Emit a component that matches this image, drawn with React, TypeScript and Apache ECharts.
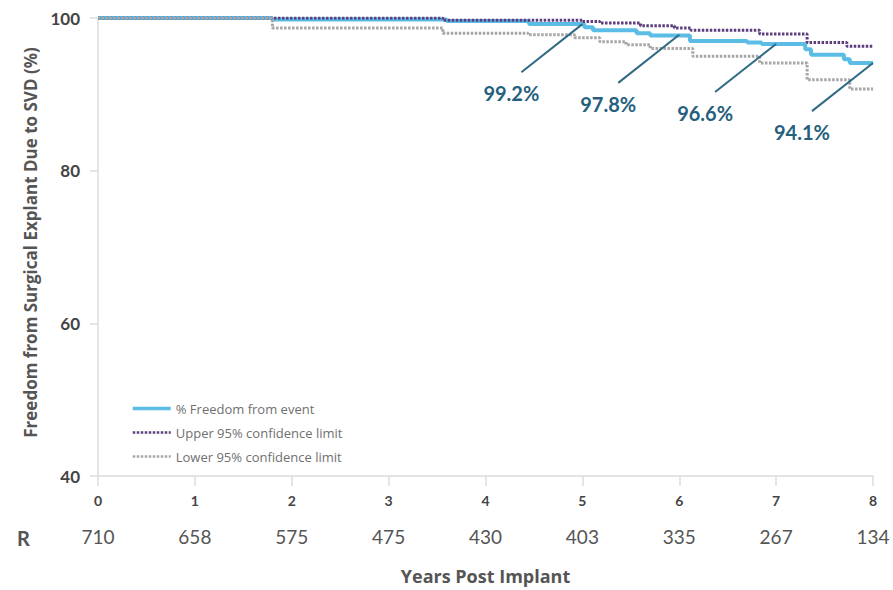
import React, { useEffect, useRef } from "react";
import * as echarts from "echarts";

const yearTicks = [0, 1, 2, 3, 4, 5, 6, 7, 8];
const atRisk = [710, 658, 575, 475, 430, 403, 335, 267, 134];

const mainT = [0, 1.8, 3.6, 4.45, 5.02, 5.11, 5.56, 5.7, 6.11, 6.7, 6.85, 7.3, 7.36, 7.7, 7.76, 8];
const mainV = [100, 99.8, 99.6, 99.2, 98.8, 98.4, 98.0, 97.7, 97.0, 96.8, 96.6, 95.9, 95.2, 94.6, 94.1, 94.1];

const upperT = [0, 3.56, 5.0, 5.18, 5.6, 5.95, 6.12, 6.83, 7.32, 7.73, 8];
const upperV = [100, 99.7, 99.55, 99.35, 99.0, 98.7, 98.4, 97.9, 96.8, 96.3, 96.3];

const lowerT = [0, 1.8, 3.56, 4.44, 4.92, 5.18, 5.45, 5.7, 6.14, 6.83, 7.32, 7.76, 8];
const lowerV = [100, 98.7, 98.0, 97.8, 97.4, 96.9, 96.5, 96.0, 95.0, 94.1, 91.9, 90.7, 90.7];

const annotYears = [5, 6, 7, 8];
const annotValues = [99.2, 97.8, 96.6, 94.1];

const seriesNames = [
  "% Freedom from event",
  "Upper 95% confidence limit",
  "Lower 95% confidence limit",
];

const FONT = "Lato, 'Open Sans', sans-serif";
const WIDE = "'Open Sans', Lato, sans-serif";

export default function App() {
  const ref = useRef<HTMLDivElement>(null);
  useEffect(() => {
    if (!ref.current) return;
    const chart = echarts.init(ref.current, undefined, { renderer: "svg" });
    const zip = (t: number[], v: number[]) => t.map((x, i) => [x, v[i]]);
    const dX = -0.63;
    const dY = -6.3;
    const leaderLines = annotYears.map((t, i) => [
      { coord: [t + dX, annotValues[i] + dY] },
      { coord: [t, annotValues[i]] },
    ]);
    const labelPoints = annotYears.map((t, i) => ({
      coord: [t + dX, annotValues[i] + dY],
      value: annotValues[i],
    }));
    chart.setOption({
      animation: false,
      textStyle: { fontFamily: FONT },
      grid: { left: 98, right: 20, top: 18, bottom: 111, containLabel: false },
      legend: {
        data: [
          { name: seriesNames[0], lineStyle: { width: 3.5 } },
          { name: seriesNames[1], lineStyle: { width: 2.5 } },
          { name: seriesNames[2], lineStyle: { width: 2.5 } },
        ],
        orient: "vertical",
        left: 126,
        top: 397,
        itemWidth: 38,
        itemHeight: 14,
        itemGap: 11,
        itemStyle: { opacity: 0 },
        textStyle: { fontFamily: WIDE, fontSize: 13, color: "#707070" },
      },
      xAxis: [
        {
          type: "value",
          min: 0,
          max: 8,
          interval: 1,
          name: "Years Post Implant",
          nameLocation: "middle",
          nameGap: 91,
          nameTextStyle: { fontFamily: WIDE, fontSize: 18, fontWeight: "bold", color: "#555" },
          axisLine: { show: true, lineStyle: { color: "#ddd", width: 1.5 } },
          axisTick: { show: true, length: 10, lineStyle: { color: "#ddd", width: 1.5 } },
          axisLabel: { fontFamily: FONT, fontSize: 14, fontWeight: "bold", color: "#444", margin: 17 },
          splitLine: { show: false },
        },
        {
          type: "value",
          min: 0,
          max: 8,
          interval: 1,
          position: "bottom",
          offset: 51,
          axisLine: { show: false },
          axisTick: { show: false },
          axisLabel: {
            fontFamily: FONT,
            fontSize: 19,
            color: "#555",
            margin: 0,
            formatter: (v: number) => {
              const i = yearTicks.indexOf(v);
              return i >= 0 ? String(atRisk[i]) : "";
            },
          },
          splitLine: { show: false },
        },
      ],
      yAxis: {
        type: "value",
        min: 40,
        max: 100,
        interval: 20,
        name: "Freedom from Surgical Explant Due to SVD (%)",
        nameLocation: "middle",
        nameGap: 59,
        nameTextStyle: {
          fontFamily: WIDE,
          fontSize: 17,
          fontWeight: "bold",
          color: "#555",
          padding: [0, 0, 0, 9],
        },
        axisLine: { show: true, lineStyle: { color: "#ddd", width: 1.5 } },
        axisTick: { show: true, length: 8, lineStyle: { color: "#ddd", width: 1.5 } },
        axisLabel: { fontFamily: FONT, fontSize: 17, fontWeight: "bold", color: "#444", margin: 18 },
        splitLine: { show: false },
      },
      graphic: [
        {
          type: "text",
          left: 17,
          top: 528,
          style: { text: "R", fontFamily: FONT, fontSize: 20, fontWeight: "bold", fill: "#555" },
        },
      ],
      series: [
        {
          name: seriesNames[0],
          type: "line",
          step: "end",
          symbol: "none",
          data: zip(mainT, mainV),
          lineStyle: { color: "#5bbde6", width: 4 },
          itemStyle: { color: "#5bbde6" },
          z: 2,
          markLine: {
            silent: true,
            symbol: ["none", "none"],
            label: { show: false },
            lineStyle: { color: "#2f6a85", width: 2, type: "solid" },
            data: leaderLines,
          },
          markPoint: {
            silent: true,
            symbol: "circle",
            symbolSize: 1,
            itemStyle: { color: "rgba(0,0,0,0)" },
            label: {
              show: true,
              position: "inside",
              offset: [-10, 21],
              formatter: (p: any) => `${p.value}%`,
              fontFamily: FONT,
              fontSize: 20,
              fontWeight: "bold",
              color: "#24607e",
            },
            data: labelPoints,
          },
        },
        {
          name: seriesNames[1],
          type: "line",
          step: "end",
          symbol: "none",
          data: zip(upperT, upperV),
          lineStyle: { color: "#5c3d7e", width: 3, type: [2.5, 1.5] },
          itemStyle: { color: "#5c3d7e" },
          z: 3,
        },
        {
          name: seriesNames[2],
          type: "line",
          step: "end",
          symbol: "none",
          data: zip(lowerT, lowerV),
          lineStyle: { color: "#a6a6a6", width: 3, type: [2.5, 1.5] },
          itemStyle: { color: "#a6a6a6" },
          z: 3,
        },
      ],
    });
    return () => chart.dispose();
  }, []);
  return <div ref={ref} style={{ width: 893, height: 590, position: "absolute", left: 0, top: 0 }} />;
}
